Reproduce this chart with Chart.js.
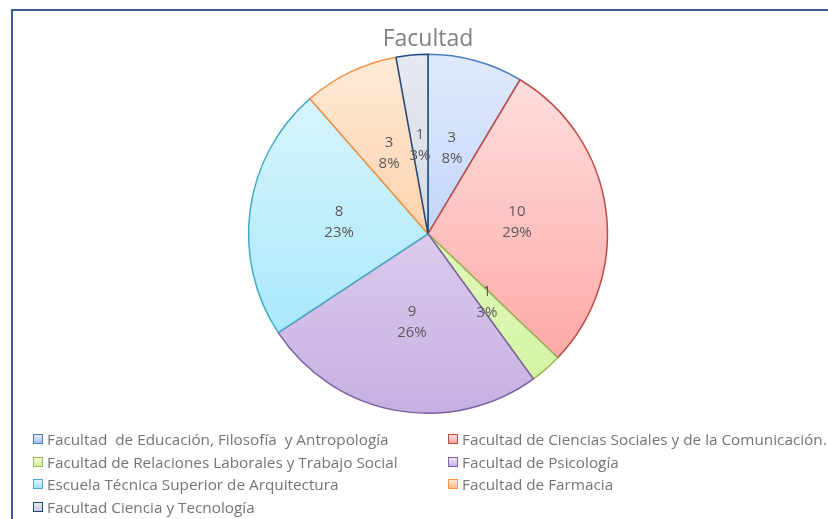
<!DOCTYPE html>
<html>
<head>
<meta charset="utf-8">
<script src="https://cdn.jsdelivr.net/npm/chart.js@4.4.1/dist/chart.umd.min.js"></script>
<style>
  html, body { margin: 0; padding: 0; background: #fff; }
  .wrap { position: relative; width: 828px; height: 519px; overflow: hidden; }
  .frame { position: absolute; left: 11px; top: 9px; width: 900px; height: 600px;
    border-top: 2px solid #3a5f8c; border-left: 2px solid #3a5f8c; box-sizing: border-box; }
  canvas { position: absolute; left: 0; top: 0; }
  .legend { position: absolute; left: 33px; top: 428px; display: grid;
    grid-template-columns: 415px auto; grid-auto-rows: 22.6px;
    font-family: "Open Sans", sans-serif; font-size: 15.3px; color: #747474; }
  .legend div { display: flex; align-items: center; white-space: pre; }
  .legend span.box { display: inline-block; width: 8px; height: 8px; margin-right: 4px;
    border: 1.5px solid; }
</style>
</head>
<body>
<div class="wrap">
  <div class="frame"></div>
  <canvas id="myChart" width="828" height="519"></canvas>
  <div class="legend" id="legend"></div>
</div>
<script>
// data
const labels = [
  "Facultad  de Educación, Filosofía  y Antropología",
  "Facultad de Ciencias Sociales y de la Comunicación.",
  "Facultad de Relaciones Laborales y Trabajo Social",
  "Facultad de Psicología",
  "Escuela Técnica Superior de Arquitectura",
  "Facultad de Farmacia",
  "Facultad Ciencia y Tecnología",
];
const values = [3, 10, 1, 9, 8, 3, 1];
const percents = ["8%", "29%", "3%", "26%", "23%", "8%", "3%"];

// colours (gradient top -> bottom, border)
const topColors = ["#e0eafc", "#fde3e3", "#eefcd6", "#efe6f7", "#e2f7fd", "#feead8", "#e6e9f0"];
const bottomColors = ["#a6c2f6", "#ff9f9c", "#d2f3a0", "#c6b0e2", "#98e4fa", "#fcbb84", "#c5ccdb"];
const borderColors = ["#4a7ebb", "#be4b48", "#98b954", "#7d60a0", "#46aac5", "#f69240", "#1f497d"];

function gradientFor(context) {
  const chart = context.chart;
  const area = chart.chartArea;
  if (!area) return topColors[context.dataIndex];
  const g = chart.ctx.createLinearGradient(0, area.top, 0, area.bottom);
  g.addColorStop(0, topColors[context.dataIndex]);
  g.addColorStop(1, bottomColors[context.dataIndex]);
  return g;
}

// labels inside slices
const sliceLabels = {
  id: "sliceLabels",
  afterDatasetsDraw(chart) {
    const ctx = chart.ctx;
    const meta = chart.getDatasetMeta(0);
    ctx.save();
    ctx.font = "15px 'Open Sans', sans-serif";
    ctx.fillStyle = "#595959";
    ctx.textAlign = "center";
    ctx.textBaseline = "middle";
    meta.data.forEach((arc, i) => {
      const p = arc.tooltipPosition();
      ctx.fillText(String(values[i]), p.x, p.y - 10);
      ctx.fillText(percents[i], p.x, p.y + 11);
    });
    ctx.restore();
  },
};

const config = {
  type: "pie",
  data: {
    labels,
    datasets: [
      {
        data: values,
        backgroundColor: gradientFor,
        borderColor: borderColors,
        borderWidth: 1.5,
      },
    ],
  },
  options: {
    responsive: false,
    animation: false,
    layout: { padding: { top: 26, bottom: 105, left: 28, right: 0 } },
    plugins: {
      legend: { display: false },
      tooltip: { enabled: false },
      title: {
        display: true,
        text: "Facultad",
        color: "#808080",
        font: { family: "'Liberation Sans Narrow', 'Open Sans', sans-serif", size: 23, weight: "normal" },
        padding: { top: 0, bottom: 0 },
      },
    },
  },
  plugins: [sliceLabels],
};

const myChart = new Chart(document.getElementById("myChart"), config);

// legend
const legend = document.getElementById("legend");
labels.forEach((name, i) => {
  const item = document.createElement("div");
  const box = document.createElement("span");
  box.className = "box";
  box.style.borderColor = borderColors[i];
  box.style.background = "linear-gradient(" + topColors[i] + "," + bottomColors[i] + ")";
  item.appendChild(box);
  item.appendChild(document.createTextNode(name));
  legend.appendChild(item);
});
</script>
</body>
</html>
